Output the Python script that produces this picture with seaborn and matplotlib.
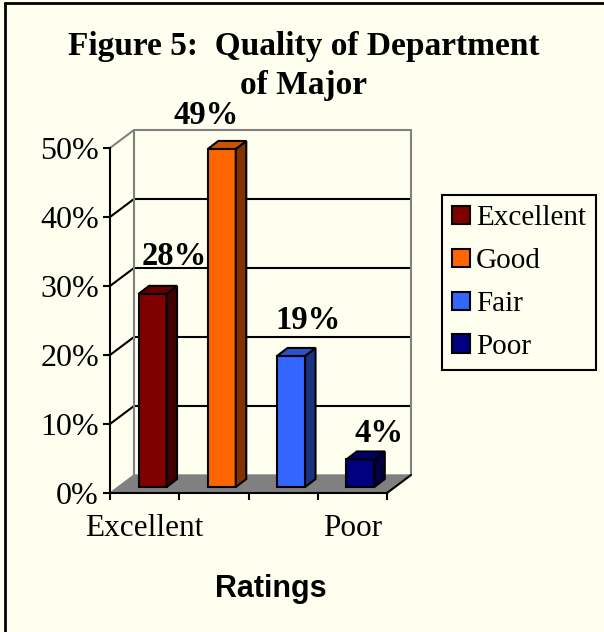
import pandas as pd
import matplotlib.pyplot as plt
import seaborn as sns
from matplotlib.patches import Polygon, Patch
from matplotlib.lines import Line2D

categories = ['Excellent', 'Good', 'Fair', 'Poor']
shares = [28, 49, 19, 4]
tick_labels = ['Excellent', '', '', 'Poor']
y_ticks = [0, 10, 20, 30, 40, 50]

front_colors = ['#800000', '#FF6600', '#3366FF', '#000080']
side_colors = ['#400000', '#803300', '#1A3380', '#000040']
top_colors = ['#660000', '#CC5200', '#2952CC', '#000066']
bg = '#FFFFF0'

sns.set_theme(style='white')
plt.rcParams['font.family'] = ['Liberation Serif', 'DejaVu Serif']
plt.rcParams['text.color'] = 'black'
plt.rcParams['axes.labelcolor'] = 'black'
plt.rcParams['xtick.color'] = 'black'
plt.rcParams['ytick.color'] = 'black'

W, H = 604, 632
fig = plt.figure(figsize=(6.04, 6.32), dpi=100, facecolor=bg)
ax = fig.add_axes([110 / W, 139 / H, 277 / W, 345 / H])
ax.set_facecolor('none')

df = pd.DataFrame({'Rating': categories, 'Share': shares})
sns.barplot(data=df, x='Rating', y='Share', hue='Rating', palette=front_colors,
            saturation=1, width=0.404, edgecolor='black', linewidth=1.5,
            legend=False, ax=ax, zorder=5)

ax.set_xlim(-0.5, 3.5)
ax.set_ylim(0, 50)

# depth of the 3d box (in data units) and of the bars
px_x = 277 / 4.0
px_y = 345 / 50.0
dx, dy = 24 / px_x, 18 / px_y
t = 0.33
bdx, bdy = 10.5 / px_x, 8 / px_y

# floor and back wall
floor = Polygon([(-0.5, 0), (3.5, 0), (3.5 + dx, dy), (-0.5 + dx, dy)],
                closed=True, facecolor='#808080', edgecolor='#808080',
                lw=1, clip_on=False, zorder=1)
ax.add_patch(floor)
ax.plot([3.5, 3.5 + dx], [0, dy], color='black', lw=1.5, clip_on=False, zorder=2)
for v in y_ticks[1:-1]:
    ax.plot([-0.5, -0.5 + dx, 3.5 + dx], [v, v + dy, v + dy], color='black',
            lw=1.5, clip_on=False, zorder=1)
ax.plot([-0.5, -0.5 + dx, 3.5 + dx, 3.5 + dx], [50, 50 + dy, 50 + dy, dy],
        color='#808080', lw=1.5, clip_on=False, zorder=1)
ax.plot([-0.5 + dx, -0.5 + dx], [dy, 50 + dy], color='#808080', lw=1.5,
        clip_on=False, zorder=1)

# shift bars into the box and give them sides and tops
label_nudge = [(22, 37), (-16, 33), (17, 35), (19, 26)]
for i, bar in enumerate(ax.patches[:len(categories)]):
    bar.set_x(bar.get_x() + t * dx)
    bar.set_y(t * dy)
    x0 = bar.get_x()
    x1 = x0 + bar.get_width()
    y0 = bar.get_y()
    y1 = y0 + bar.get_height()
    ax.add_patch(Polygon([(x1, y0), (x1 + bdx, y0 + bdy), (x1 + bdx, y1 + bdy), (x1, y1)],
                         closed=True, facecolor=side_colors[i], edgecolor='black',
                         lw=1.5, zorder=5, clip_on=False))
    ax.add_patch(Polygon([(x0, y1), (x1, y1), (x1 + bdx, y1 + bdy), (x0 + bdx, y1 + bdy)],
                         closed=True, facecolor=top_colors[i], edgecolor='black',
                         lw=1.5, zorder=5, clip_on=False))
    nx, ny = label_nudge[i]
    ax.annotate(f'{shares[i]}%', xy=((x0 + x1) / 2, y1),
                xytext=(nx * 0.72, ny * 0.72), textcoords='offset points',
                ha='center', va='center', fontsize=23.5, fontweight='bold',
                annotation_clip=False, zorder=6)

# axes
for s in ['top', 'right']:
    ax.spines[s].set_visible(False)
for s in ['left', 'bottom']:
    ax.spines[s].set_color('black')
    ax.spines[s].set_linewidth(1.5)
    ax.spines[s].set_zorder(3)

ax.set_yticks(y_ticks)
ax.set_yticklabels([f'{v}%' for v in y_ticks])
ax.tick_params(axis='y', direction='out', length=5, width=1.5, color='black',
               labelsize=23, pad=3, left=True)
ax.set_xticks(range(len(categories)))
ax.set_xticklabels(tick_labels)
ax.set_xticks([-0.5, 0.5, 1.5, 2.5, 3.5], minor=True)
ax.tick_params(axis='x', which='major', length=0, labelsize=22.5, pad=15)
ax.tick_params(axis='x', which='minor', direction='out', length=5, width=1.5,
               color='black', bottom=True)

ax.set_xlabel('Ratings', family='Liberation Sans', fontweight='bold', fontsize=22,
              color='black')
ax.xaxis.set_label_coords(161 / 277, -96 / 345)
ax.xaxis.label.set_va('center')
ax.set_ylabel('')

fig.text(304 / W, 1 - 66 / H, 'Figure 5:  Quality of Department\nof Major',
         ha='center', va='center', fontsize=24, fontweight='bold', linespacing=1.3)

handles = [Patch(facecolor=c, edgecolor='black', lw=1.5) for c in front_colors]
leg = ax.legend(handles, categories, loc='upper left',
                bbox_to_anchor=(442 / W, 1 - 195 / H), bbox_transform=fig.transFigure,
                borderaxespad=0, frameon=True, fancybox=False, framealpha=1,
                facecolor=bg, edgecolor='black', fontsize=21, handlelength=0.6,
                handleheight=0.6, handletextpad=0.22, labelspacing=0.58,
                borderpad=0.35)
leg.get_frame().set_linewidth(1.5)

# outer chart frame (left and top edges visible)
fig.add_artist(Line2D([5 / W, 5 / W], [0, 1 - 3 / H], color='black', lw=2))
fig.add_artist(Line2D([5 / W, 1], [1 - 3 / H, 1 - 3 / H], color='black', lw=2))

fig.savefig('out.png', dpi=100, facecolor=bg)
